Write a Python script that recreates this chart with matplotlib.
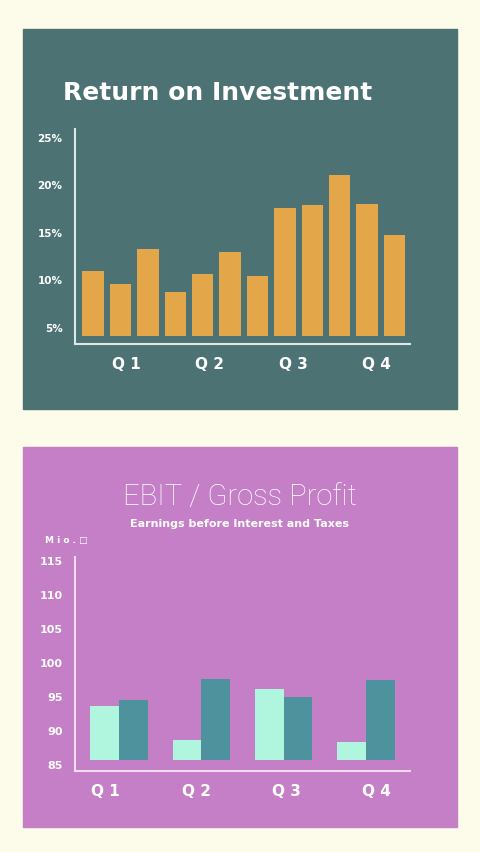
import matplotlib.pyplot as plt
from matplotlib.patches import Rectangle

# --- data ---
roi_values = [10.9, 9.5, 13.2, 8.7, 10.6, 12.9, 10.3, 17.5, 17.8, 21.0, 17.9, 14.7]
roi_ticks = [5, 10, 15, 20, 25]
roi_labels = ["5%", "10%", "15%", "20%", "25%"]
quarters = ["Q 1", "Q 2", "Q 3", "Q 4"]
ebit = [93.5, 88.5, 96.1, 88.2]
gross = [94.4, 97.5, 94.8, 97.4]
ebit_ticks = [85, 90, 95, 100, 105, 110, 115]

BG = "#fdfbea"
TOP_BG = "#4d7273"
BOT_BG = "#c47fc6"
ORANGE = "#e3a648"
MINT = "#b0f5de"
TEAL = "#4e929e"

fig = plt.figure(figsize=(4.8, 8.53), dpi=100)
fig.patch.set_facecolor(BG)
fig.patches.append(Rectangle((23/480, 1-410/853), 434/480, 380/853,
                             transform=fig.transFigure, color=TOP_BG, zorder=-5))
fig.patches.append(Rectangle((23/480, 1-828/853), 434/480, 380/853,
                             transform=fig.transFigure, color=BOT_BG, zorder=-5))

def style(ax, col):
    ax.set_facecolor("none")
    for s in ["top", "right"]:
        ax.spines[s].set_visible(False)
    for s in ["left", "bottom"]:
        ax.spines[s].set_color(col)
        ax.spines[s].set_linewidth(1.5)
    ax.tick_params(length=0, colors="white")

# --- top chart ---
ax1 = fig.add_axes([75/480, 1-345/853, 335/480, 215/853])
style(ax1, "#dde8e8")
base = 4.05
ax1.bar(range(len(roi_values)), [v - base for v in roi_values], bottom=base,
        width=0.78, color=ORANGE)
ax1.set_xlim(-0.66, 11.57)
ax1.set_ylim(3.2, 25.8)
ax1.set_yticks(roi_ticks)
ax1.set_yticklabels(roi_labels, fontsize=7.5, fontweight="bold", color="white")
ax1.set_xticks([1.2, 4.25, 7.3, 10.35])
ax1.set_xticklabels(quarters, fontsize=11, fontweight="bold", color="white")
ax1.tick_params(axis="x", pad=9)
ax1.tick_params(axis="y", pad=9)
fig.text(63/480, 1-93/853, "Return on Investment", color="white", fontsize=18,
         fontweight="bold", va="center", ha="left")

# --- bottom chart ---
ax2 = fig.add_axes([75/480, 1-772/853, 335/480, 214/853])
style(ax2, "#f2dcf2")
x = list(range(len(quarters)))
b0 = 85.6
w = 0.35
ax2.bar([i - w/2 for i in x], [v - b0 for v in ebit], bottom=b0, width=w, color=MINT)
ax2.bar([i + w/2 for i in x], [v - b0 for v in gross], bottom=b0, width=w, color=TEAL)
ax2.set_xlim(-0.535, 3.536)
ax2.set_ylim(84, 115.4)
ax2.set_yticks(ebit_ticks)
ax2.set_yticklabels([str(t) for t in ebit_ticks], fontsize=8, fontweight="bold", color="white")
ax2.set_xticks([-0.17, 0.94, 2.04, 3.13])
ax2.set_xticklabels(quarters, fontsize=11, fontweight="bold", color="white")
ax2.tick_params(axis="x", pad=9)
ax2.tick_params(axis="y", pad=9)
fig.text(0.5, 1-497/853, "EBIT / Gross Profit", color="white", fontsize=21,
         fontweight="light", ha="center", va="center", family="Roboto")
fig.text(0.5, 1-524/853, "Earnings before Interest and Taxes", color="white",
         fontsize=8, fontweight="bold", ha="center", va="center")
fig.text(45/480, 1-541/853, "M i o . \u25a1", color="white", fontsize=6.5,
         fontweight="bold", ha="left", va="center")

fig.savefig("out.png", dpi=100, facecolor=BG)
